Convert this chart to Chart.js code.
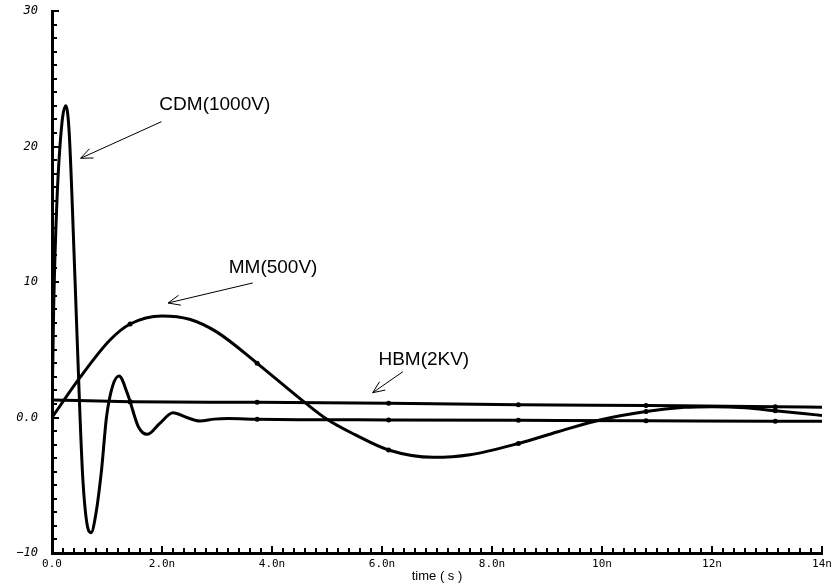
<!DOCTYPE html>
<html>
<head>
<meta charset="utf-8">
<script src="https://cdn.jsdelivr.net/npm/chart.js@4.4.0/dist/chart.umd.min.js"></script>
<style>
  body { margin: 0; background: #fff; }
  canvas { display: block; }
</style>
</head>
<body>
<canvas id="visu" width="833" height="585"></canvas>
<script>
// temps en ns
const cdmTime = [0, 0.03, 0.09, 0.18, 0.25, 0.31, 0.42, 0.51, 0.56, 0.63, 0.71, 0.79, 0.9, 0.99, 1.1, 1.22, 1.37, 1.42, 1.57, 1.73, 1.96, 2.2, 2.45, 2.69, 2.95, 3.2, 3.73, 4.5, 6.12, 8.48, 10.8, 13.15, 14];
const cdmValues = [0, 8, 16, 21.7, 23.0, 21.2, 10, 0, -4.5, -7.7, -8.5, -7.3, -3.9, 0, 2.3, 3.06, 1.78, 1.17, -0.68, -1.24, -0.43, 0.35, 0.0, -0.26, -0.12, -0.08, -0.13, -0.16, -0.18, -0.21, -0.24, -0.28, -0.28];

const mmTime = [0, 0.5, 1.05, 1.42, 2.0, 2.5, 3.0, 3.73, 4.6, 5.0, 5.5, 6.12, 6.93, 7.6, 8.48, 9.2, 9.96, 10.8, 11.5, 12.0, 12.6, 13.15, 13.7, 14];
const mmValues = [0, 2.9, 5.7, 6.9, 7.5, 7.25, 6.3, 4.0, 1.1, -0.13, -1.25, -2.4, -2.94, -2.75, -1.92, -1.05, -0.18, 0.45, 0.75, 0.8, 0.72, 0.5, 0.28, 0.15];

const hbmTime = [0, 1.42, 3.73, 6.12, 8.48, 10.8, 13.15, 14];
const hbmValues = [1.29, 1.17, 1.12, 1.05, 0.95, 0.88, 0.8, 0.75];

// points marqués sur chaque courbe
const markerTimes = [1.42, 3.73, 6.12, 8.48, 10.8, 13.15];

const xTickValues = [0, 2, 4, 6, 8, 10, 12, 14];
const xTickLabels = ['0.0', '2.0n', '4.0n', '6.0n', '8.0n', '10n', '12n', '14n'];
const yTickValues = [-10, 0, 10, 20, 30];
const yTickLabels = ['\u221210', '0.0', '10', '20', '30'];

// étiquettes avec flèches (coordonnées en unités des axes)
const annotations = [
    { text: 'CDM(1000V)', at: [2.96, 23.06], from: [1.99, 21.83], to: [0.52, 19.13] },
    { text: 'MM(500V)', at: [4.02, 11.03], from: [3.65, 9.93], to: [2.11, 8.45] },
    { text: 'HBM(2KV)', at: [6.76, 4.24], from: [6.38, 3.38], to: [5.83, 1.83] }
];

function toPoints(times, values) {
    return times.map((t, i) => ({ x: t, y: values[i] }));
}

function makeDataset(label, times, values) {
    return {
        label: label,
        data: toPoints(times, values),
        borderColor: '#000',
        borderWidth: 3,
        fill: false,
        cubicInterpolationMode: 'monotone',
        pointRadius: ctx => markerTimes.includes(ctx.raw && ctx.raw.x) ? 2.5 : 0,
        pointBackgroundColor: '#000',
        pointBorderWidth: 0,
        pointHoverRadius: 0
    };
}

// petites graduations tournées vers l'intérieur
const innerTicks = {
    id: 'innerTicks',
    afterDatasetsDraw(chart) {
        const { ctx, chartArea, scales: { x, y } } = chart;
        ctx.save();
        ctx.strokeStyle = '#000';
        ctx.lineWidth = 2;
        for (let i = 0; i <= 70; i++) {
            const px = Math.round(x.getPixelForValue(x.min + i * 0.2));
            const len = i % 10 === 0 ? 7 : 5;
            ctx.beginPath();
            ctx.moveTo(px, chartArea.bottom);
            ctx.lineTo(px, chartArea.bottom - len);
            ctx.stroke();
        }
        for (let i = 0; i <= 40; i++) {
            const py = Math.round(y.getPixelForValue(y.min + i));
            const len = i % 10 === 0 ? 7 : 5;
            ctx.beginPath();
            ctx.moveTo(chartArea.left, py);
            ctx.lineTo(chartArea.left + len, py);
            ctx.stroke();
        }
        ctx.restore();
    }
};

const arrowLabels = {
    id: 'arrowLabels',
    afterDatasetsDraw(chart) {
        const { ctx, scales: { x, y } } = chart;
        ctx.save();
        ctx.fillStyle = '#000';
        ctx.strokeStyle = '#000';
        ctx.lineWidth = 1;
        ctx.font = '19px "Liberation Sans", Arial, sans-serif';
        ctx.textAlign = 'center';
        ctx.textBaseline = 'middle';
        annotations.forEach(a => {
            ctx.fillText(a.text, x.getPixelForValue(a.at[0]), y.getPixelForValue(a.at[1]));
            const x1 = x.getPixelForValue(a.from[0]), y1 = y.getPixelForValue(a.from[1]);
            const x2 = x.getPixelForValue(a.to[0]), y2 = y.getPixelForValue(a.to[1]);
            const ang = Math.atan2(y2 - y1, x2 - x1);
            const head = 13;
            ctx.beginPath();
            ctx.moveTo(x1, y1);
            ctx.lineTo(x2, y2);
            ctx.moveTo(x2 - head * Math.cos(ang - 0.4), y2 - head * Math.sin(ang - 0.4));
            ctx.lineTo(x2, y2);
            ctx.lineTo(x2 - head * Math.cos(ang + 0.4), y2 - head * Math.sin(ang + 0.4));
            ctx.stroke();
        });
        ctx.restore();
    }
};

const config = {
    type: 'line',
    data: {
        datasets: [
            makeDataset('CDM(1000V)', cdmTime, cdmValues),
            makeDataset('MM(500V)', mmTime, mmValues),
            makeDataset('HBM(2KV)', hbmTime, hbmValues)
        ]
    },
    options: {
        responsive: false,
        animation: false,
        devicePixelRatio: 1,
        layout: { padding: { top: 11, right: 11, left: 0, bottom: 0 } },
        plugins: {
            legend: { display: false },
            tooltip: { enabled: false }
        },
        scales: {
            x: {
                type: 'linear',
                min: 0,
                max: 14,
                grid: { display: false, drawTicks: false },
                border: { display: true, color: '#000', width: 3 },
                ticks: {
                    stepSize: 2,
                    maxRotation: 0,
                    autoSkip: false,
                    padding: 5,
                    color: '#000',
                    font: { family: '"DejaVu Sans Mono", monospace', size: 11 },
                    callback: v => {
                        const i = xTickValues.indexOf(v);
                        return i >= 0 ? xTickLabels[i] : '';
                    }
                },
                title: {
                    display: true,
                    text: 'time ( s )',
                    color: '#000',
                    font: { family: '"Liberation Sans", Arial, sans-serif', size: 13 },
                    padding: { top: 0, bottom: 1 }
                },
                afterFit: scale => {
                    scale.height = 32;
                    scale.paddingLeft = 0;
                    scale.paddingRight = 0;
                }
            },
            y: {
                min: -10,
                max: 30,
                grid: { display: false, drawTicks: false },
                border: { display: true, color: '#000', width: 3 },
                ticks: {
                    stepSize: 10,
                    padding: 14,
                    color: '#000',
                    font: { family: '"DejaVu Sans Mono", monospace', size: 12, style: 'italic' },
                    callback: v => {
                        const i = yTickValues.indexOf(v);
                        return i >= 0 ? yTickLabels[i] : '';
                    }
                },
                afterFit: scale => {
                    scale.width = 52;
                    scale.paddingTop = 0;
                    scale.paddingBottom = 0;
                }
            }
        }
    },
    plugins: [innerTicks, arrowLabels]
};

const canvas = document.getElementById('visu');
const currentChart = new Chart(canvas.getContext('2d'), config);
</script>
</body>
</html>
